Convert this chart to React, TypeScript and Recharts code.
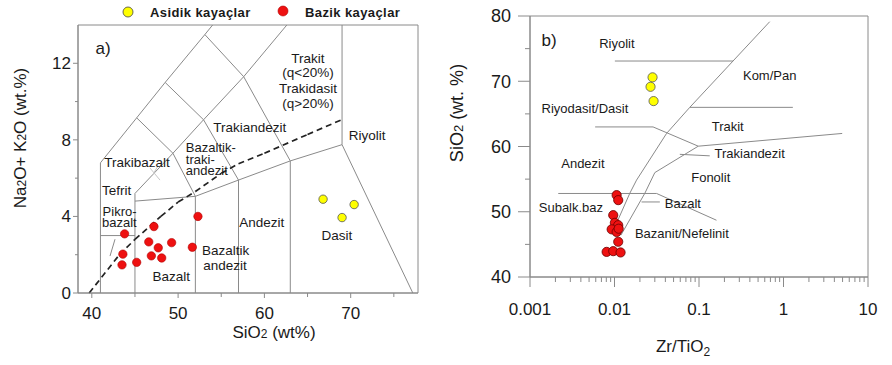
import React from 'react';
import { ScatterChart, Scatter, XAxis, YAxis, ReferenceLine, ReferenceArea } from 'recharts';

type P = { x: number; y: number };
type L = { x: number; y: number; text: string; size?: number; anchor?: string };

const FONT = '"Liberation Sans", Arial, Helvetica, sans-serif';
const LINE = '#8a8a8a';
const INK = '#1a1a1a';

// ---------- Panel a) TAS ----------
const tasXTicks = [40, 45, 50, 55, 60, 65, 70, 75];
const tasXMajor = [40, 50, 60, 70];
const tasYTicks = [0, 2, 4, 6, 8, 10, 12];
const tasYMajor = [0, 4, 8, 12];

const tasAcidic: P[] = [
  { x: 66.8, y: 4.9 },
  { x: 70.4, y: 4.62 },
  { x: 69.0, y: 3.94 },
];
const tasBasic: P[] = [
  { x: 52.3, y: 4.0 },
  { x: 47.2, y: 3.47 },
  { x: 43.8, y: 3.09 },
  { x: 46.6, y: 2.67 },
  { x: 49.25, y: 2.63 },
  { x: 51.65, y: 2.39 },
  { x: 47.7, y: 2.36 },
  { x: 43.6, y: 2.03 },
  { x: 46.9, y: 1.94 },
  { x: 48.1, y: 1.83 },
  { x: 45.2, y: 1.6 },
  { x: 43.5, y: 1.47 },
];

const tasBoundaries: P[][] = [
  [{ x: 41, y: 0 }, { x: 41, y: 6.8 }, { x: 45.2, y: 9.15 }, { x: 48.5, y: 11.0 }, { x: 53.1, y: 13.5 }, { x: 54.0, y: 14 }],
  [{ x: 41, y: 3 }, { x: 45, y: 3 }],
  [{ x: 45, y: 0 }, { x: 45, y: 5.2 }, { x: 49.4, y: 7.3 }, { x: 52, y: 5.05 }],
  [{ x: 45, y: 4.8 }, { x: 52, y: 5.05 }, { x: 57, y: 5.9 }, { x: 63, y: 6.9 }, { x: 69, y: 7.75 }, { x: 77.2, y: 0 }],
  [{ x: 52, y: 0 }, { x: 52, y: 5.05 }],
  [{ x: 57, y: 0 }, { x: 57, y: 5.9 }],
  [{ x: 63, y: 0 }, { x: 63, y: 6.9 }],
  [{ x: 69, y: 7.75 }, { x: 69, y: 14 }],
  [{ x: 45.2, y: 9.15 }, { x: 49.4, y: 7.3 }],
  [{ x: 49.4, y: 7.3 }, { x: 52.95, y: 9.05 }, { x: 57, y: 5.9 }],
  [{ x: 48.5, y: 11.0 }, { x: 52.95, y: 9.05 }],
  [{ x: 52.95, y: 9.05 }, { x: 57.6, y: 11.3 }, { x: 63, y: 6.9 }],
  [{ x: 53.1, y: 13.5 }, { x: 57.6, y: 11.3 }, { x: 62.6, y: 14 }],
  [{ x: 42.69, y: 2.81 }, { x: 42.11, y: 1.93 }],
];
const tasFaint: P[][] = [
  [{ x: 46.74, y: 6.53 }, { x: 47.9, y: 5.9 }],
  [{ x: 47.67, y: 6.64 }, { x: 46.97, y: 6.11 }],
];
const tasDashed: P[] = [
  { x: 39.7, y: 0 }, { x: 43.2, y: 2 }, { x: 45, y: 2.8 }, { x: 48, y: 4 }, { x: 50, y: 4.75 },
  { x: 52, y: 5.3 }, { x: 55, y: 6.25 }, { x: 57, y: 6.75 }, { x: 60, y: 7.3 }, { x: 65, y: 8.28 }, { x: 69, y: 9.06 },
];
const tasLabels: L[] = [
  { x: 41.3, y: 12.8, text: 'a)', size: 17 },
  { x: 65.05, y: 12.28, text: 'Trakit' },
  { x: 65.05, y: 11.55, text: '(q<20%)' },
  { x: 65.05, y: 10.71, text: 'Trakidasit' },
  { x: 65.05, y: 9.93, text: '(q>20%)' },
  { x: 71.9, y: 8.25, text: 'Riyolit' },
  { x: 58.3, y: 8.67, text: 'Trakiandezit' },
  { x: 50.9, y: 7.6, text: 'Bazaltik-', anchor: 'start', size: 13 },
  { x: 50.9, y: 6.98, text: 'traki-', anchor: 'start', size: 13 },
  { x: 50.9, y: 6.38, text: 'andezit', anchor: 'start', size: 13 },
  { x: 45.24, y: 6.84, text: 'Trakibazalt' },
  { x: 41.18, y: 5.35, text: 'Tefrit', anchor: 'start' },
  { x: 41.25, y: 4.28, text: 'Pikro-', anchor: 'start', size: 13 },
  { x: 41.18, y: 3.7, text: 'bazalt', anchor: 'start', size: 13 },
  { x: 49.2, y: 0.89, text: 'Bazalt' },
  { x: 52.77, y: 2.25, text: 'Bazaltik', anchor: 'start' },
  { x: 52.9, y: 1.46, text: 'andezit', anchor: 'start' },
  { x: 59.7, y: 3.67, text: 'Andezit' },
  { x: 68.4, y: 2.99, text: 'Dasit' },
];

// ---------- Panel b) Zr/TiO2 vs SiO2 ----------
const wfXTicks = [
  0.001, 0.002, 0.003, 0.004, 0.005, 0.006, 0.007, 0.008, 0.009,
  0.01, 0.02, 0.03, 0.04, 0.05, 0.06, 0.07, 0.08, 0.09,
  0.1, 0.2, 0.3, 0.4, 0.5, 0.6, 0.7, 0.8, 0.9,
  1, 2, 3, 4, 5, 6, 7, 8, 9, 10,
];
const wfXMajor = [0.001, 0.01, 0.1, 1, 10];
const wfYTicks = [40, 45, 50, 55, 60, 65, 70, 75, 80];
const wfYMajor = [40, 50, 60, 70, 80];

const wfAcidic: P[] = [
  { x: 0.0282, y: 70.6 },
  { x: 0.0267, y: 69.15 },
  { x: 0.029, y: 66.96 },
];
const wfBasic: P[] = [
  { x: 0.0106, y: 52.55 },
  { x: 0.01107, y: 51.78 },
  { x: 0.00966, y: 49.48 },
  { x: 0.0101, y: 48.3 },
  { x: 0.01107, y: 47.94 },
  { x: 0.00925, y: 47.3 },
  { x: 0.0106, y: 46.9 },
  { x: 0.0112, y: 47.4 },
  { x: 0.01107, y: 45.4 },
  { x: 0.00807, y: 43.85 },
  { x: 0.00966, y: 43.96 },
  { x: 0.0118, y: 43.76 },
];
const wfBoundaries: P[][] = [
  [{ x: 0.0101, y: 73.1 }, { x: 0.253, y: 73.1 }],
  [{ x: 0.687, y: 79.13 }, { x: 0.0778, y: 66.0 }, { x: 0.0413, y: 62.0 }, { x: 0.01824, y: 54.85 }, { x: 0.0152, y: 52.85 }, { x: 0.00984, y: 47.33 }],
  [{ x: 0.0059, y: 63.0 }, { x: 0.0286, y: 63.0 }, { x: 0.098, y: 60.05 }],
  [{ x: 0.0778, y: 66.0 }, { x: 1.29, y: 66.0 }],
  [{ x: 0.098, y: 60.05 }, { x: 4.95, y: 62.0 }],
  [{ x: 0.098, y: 60.05 }, { x: 0.03, y: 56.0 }, { x: 0.0229, y: 52.85 }, { x: 0.0119, y: 46.4 }],
  [{ x: 0.00216, y: 52.8 }, { x: 0.0315, y: 52.8 }, { x: 0.161, y: 48.7 }],
  [{ x: 0.0209, y: 51.5 }, { x: 0.0344, y: 51.5 }],
  [{ x: 0.0593, y: 58.8 }, { x: 0.134, y: 58.57 }],
];
const wfLabels: L[] = [
  { x: 0.00168, y: 76.3, text: 'b)', size: 17 },
  { x: 0.01067, y: 75.86, text: 'Riyolit' },
  { x: 0.687, y: 70.95, text: 'Kom/Pan' },
  { x: 0.00447, y: 65.9, text: 'Riyodasit/Dasit' },
  { x: 0.2188, y: 63.13, text: 'Trakit' },
  { x: 0.398, y: 58.99, text: 'Trakiandezit' },
  { x: 0.00423, y: 57.45, text: 'Andezit' },
  { x: 0.1377, y: 55.3, text: 'Fonolit' },
  { x: 0.00305, y: 50.7, text: 'Subalk.baz' },
  { x: 0.0644, y: 51.3, text: 'Bazalt' },
  { x: 0.0627, y: 46.7, text: 'Bazanit/Nefelinit' },
];

// ---------- helpers ----------
const isIn = (list: number[], v: number) => list.some((m) => Math.abs(m - v) <= Math.abs(m) * 1e-6 + 1e-12);

const toSegments = (polys: P[][]) => {
  const out: [P, P][] = [];
  polys.forEach((poly) => {
    for (let i = 0; i < poly.length - 1; i++) out.push([poly[i], poly[i + 1]]);
  });
  return out;
};

const makeXTick = (majors: number[], majorLen: number, minorLen: number, labelDy: number, fontSize: number) =>
  (props: any) => {
    const { x, y, payload } = props;
    const v = payload.value;
    const major = isIn(majors, v);
    return (
      <g>
        <line x1={x} y1={y} x2={x} y2={y + (major ? majorLen : minorLen)} stroke={LINE} strokeWidth={1} />
        {major && (
          <text x={x} y={y + labelDy} textAnchor="middle" fontSize={fontSize} fontFamily={FONT} fill={INK}>
            {String(v)}
          </text>
        )}
      </g>
    );
  };

const makeYTick = (majors: number[], majorLen: number, minorLen: number, labelDx: number, fontSize: number) =>
  (props: any) => {
    const { x, y, payload } = props;
    const v = payload.value;
    const major = isIn(majors, v);
    return (
      <g>
        <line x1={x - (major ? majorLen : minorLen)} y1={y} x2={x} y2={y} stroke={LINE} strokeWidth={1} />
        {major && (
          <text x={x - labelDx} y={y} dy="0.35em" textAnchor="end" fontSize={fontSize} fontFamily={FONT} fill={INK}>
            {String(v)}
          </text>
        )}
      </g>
    );
  };

const labelShape = (defSize: number) => (p: any) => {
  const d = p.payload as L;
  return (
    <text
      x={p.cx}
      y={p.cy}
      dy="0.35em"
      textAnchor={(d.anchor as any) || 'middle'}
      fontSize={d.size || defSize}
      fontFamily={FONT}
      fill={INK}
    >
      {d.text}
    </text>
  );
};

const dot = (r: number, fill: string, stroke: string, sw: number) => (p: any) => (
  <circle cx={p.cx} cy={p.cy} r={r} fill={fill} stroke={stroke} strokeWidth={sw} />
);

const tasXDomain: [number, number] = [38.4, 77.8];
const tasYDomain: [number, number] = [0, 14];
const wfXDomain: [number, number] = [0.001, 10];
const wfYDomain: [number, number] = [40, 80];

function TasChart() {
  return (
    <ScatterChart width={440} height={365} margin={{ top: 25, right: 22, bottom: 42, left: 0 }}>
      <XAxis
        type="number"
        dataKey="x"
        domain={tasXDomain}
        allowDataOverflow
        ticks={tasXTicks}
        interval={0}
        height={30}
        tickSize={0}
        tickMargin={0}
        tickLine={false}
        axisLine={{ stroke: LINE }}
        tick={makeXTick(tasXMajor, 5, 4, 26, 17)}
      />
      <YAxis
        type="number"
        dataKey="y"
        domain={tasYDomain}
        allowDataOverflow
        ticks={tasYTicks}
        interval={0}
        width={78}
        tickSize={0}
        tickMargin={0}
        tickLine={false}
        axisLine={{ stroke: LINE }}
        tick={makeYTick(tasYMajor, 5, 3, 7, 17)}
      />
      <ReferenceArea x1={tasXDomain[0]} x2={tasXDomain[1]} y1={tasYDomain[0]} y2={tasYDomain[1]} fill="none" stroke={LINE} strokeWidth={1} ifOverflow="visible" />
      {toSegments(tasBoundaries).map((s, i) => (
        <ReferenceLine key={'tb' + i} segment={s} stroke={LINE} strokeWidth={1} ifOverflow="visible" />
      ))}
      {toSegments(tasFaint).map((s, i) => (
        <ReferenceLine key={'tf' + i} segment={s} stroke="#c8c8c8" strokeWidth={1} ifOverflow="visible" />
      ))}
      {toSegments([tasDashed]).map((s, i) => (
        <ReferenceLine key={'td' + i} segment={s} stroke="#222" strokeWidth={1.7} strokeDasharray="6 4" ifOverflow="visible" />
      ))}
      <Scatter data={tasLabels} dataKey="y" isAnimationActive={false} shape={labelShape(13.5)} />
      <Scatter data={tasBasic} dataKey="y" isAnimationActive={false} shape={dot(4.2, '#ee1111', '#b00000', 0.6)} />
      <Scatter data={tasAcidic} dataKey="y" isAnimationActive={false} shape={dot(4.2, '#ffff00', '#555', 0.8)} />
    </ScatterChart>
  );
}

function WfChart() {
  return (
    <ScatterChart width={452} height={365} margin={{ top: 16, right: 24, bottom: 58, left: 0 }}>
      <XAxis
        type="number"
        dataKey="x"
        scale="log"
        domain={wfXDomain}
        allowDataOverflow
        ticks={wfXTicks}
        interval={0}
        height={30}
        tickSize={0}
        tickMargin={0}
        tickLine={false}
        axisLine={{ stroke: LINE }}
        tick={makeXTick(wfXMajor, 10, 5, 38, 17)}
      />
      <YAxis
        type="number"
        dataKey="y"
        domain={wfYDomain}
        allowDataOverflow
        ticks={wfYTicks}
        interval={0}
        width={90}
        tickSize={0}
        tickMargin={0}
        tickLine={false}
        axisLine={{ stroke: LINE }}
        tick={makeYTick(wfYMajor, 12, 5, 19, 18)}
      />
      <ReferenceArea x1={wfXDomain[0]} x2={wfXDomain[1]} y1={wfYDomain[0]} y2={wfYDomain[1]} fill="none" stroke={LINE} strokeWidth={1} ifOverflow="visible" />
      {toSegments(wfBoundaries).map((s, i) => (
        <ReferenceLine key={'wb' + i} segment={s} stroke={LINE} strokeWidth={1} ifOverflow="visible" />
      ))}
      <Scatter data={wfLabels} dataKey="y" isAnimationActive={false} shape={labelShape(13)} />
      <Scatter data={wfBasic} dataKey="y" isAnimationActive={false} shape={dot(4.6, '#ee1111', '#6a0000', 0.8)} />
      <Scatter data={wfAcidic} dataKey="y" isAnimationActive={false} shape={dot(4.6, '#ffff00', '#555', 0.8)} />
    </ScatterChart>
  );
}

export default function App() {
  return (
    <div style={{ position: 'absolute', left: 0, top: 0, width: 892, height: 365, background: '#fff', overflow: 'hidden' }}>
      <div style={{ position: 'absolute', left: 0, top: 0 }}>
        <TasChart />
      </div>
      <div style={{ position: 'absolute', left: 440, top: 0 }}>
        <WfChart />
      </div>
      <svg width={892} height={365} style={{ position: 'absolute', left: 0, top: 0, pointerEvents: 'none' }}>
        <circle cx={128} cy={12} r={5} fill="#ffff00" stroke="#444" strokeWidth={0.8} />
        <text x={150} y={12} dy="0.35em" fontSize={13} fontWeight="bold" letterSpacing={0.4} fontFamily={FONT} fill={INK}>
          Asidik kayaçlar
        </text>
        <circle cx={283} cy={11} r={5} fill="#ee1111" stroke="#b00000" strokeWidth={0.6} />
        <text x={305} y={12} dy="0.35em" fontSize={13} fontWeight="bold" letterSpacing={0.4} fontFamily={FONT} fill={INK}>
          Bazik kayaçlar
        </text>
        <text x={20} y={138} transform="rotate(-90 20 138)" dy="0.35em" textAnchor="middle" fontSize={17} fontFamily={FONT} fill={INK}>
          Na<tspan fontSize={12}>2</tspan>O+ K<tspan fontSize={12}>2</tspan>O (wt.%)
        </text>
        <text x={274} y={338} textAnchor="middle" fontSize={17} fontFamily={FONT} fill={INK}>
          SiO<tspan fontSize={12}>2</tspan> (wt%)
        </text>
        <text x={457} y={113} transform="rotate(-90 457 113)" dy="0.35em" textAnchor="middle" fontSize={18} fontFamily={FONT} fill={INK}>
          SiO<tspan fontSize={13}>2</tspan> (wt. %)
        </text>
        <text x={683} y={352} textAnchor="middle" fontSize={17} fontFamily={FONT} fill={INK}>
          Zr/TiO<tspan fontSize={12} dy={4}>2</tspan>
        </text>
      </svg>
    </div>
  );
}
